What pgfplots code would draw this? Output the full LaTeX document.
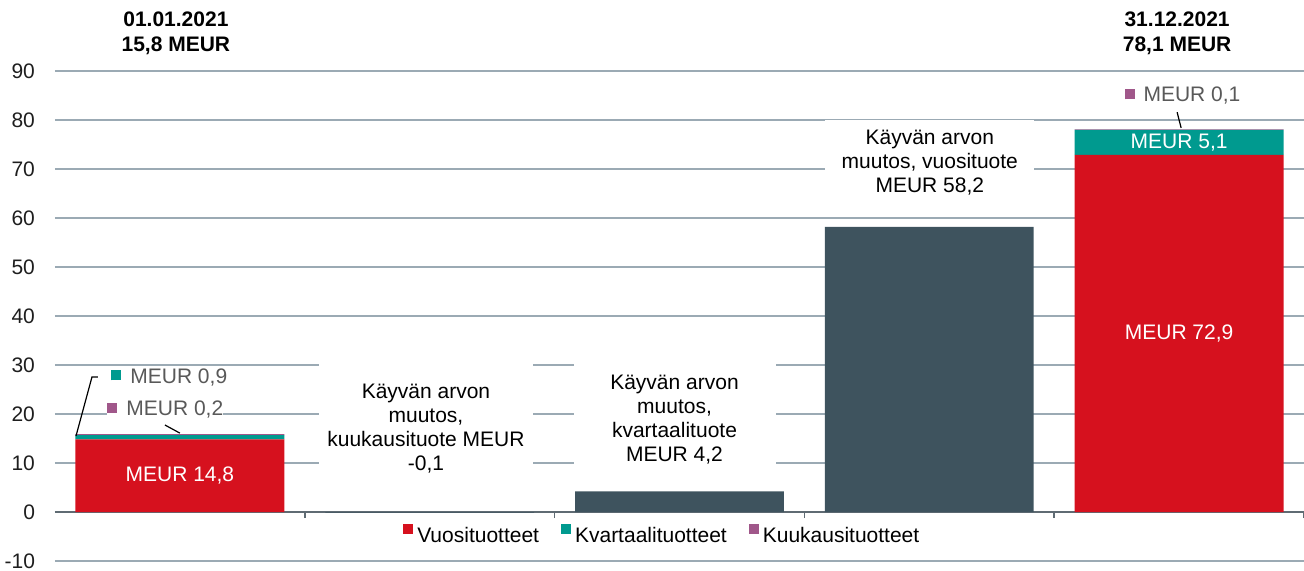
\documentclass[border=0pt]{standalone}
\usepackage{pgfplots}
\pgfplotsset{compat=1.18}
\usepackage{fontspec}
\setmainfont{Liberation Sans}
\definecolor{vred}{RGB}{214,17,30}
\definecolor{kteal}{RGB}{0,154,143}
\definecolor{kpurp}{RGB}{160,87,138}
\definecolor{slate}{RGB}{62,83,94}
\definecolor{gridc}{RGB}{155,170,180}
\definecolor{axc}{RGB}{95,107,115}
\definecolor{lblg}{RGB}{89,89,89}
\definecolor{tickc}{RGB}{30,30,30}
\newcommand{\fs}{\fontsize{10.5}{12}\selectfont}
\begin{document}
\begin{tikzpicture}
\path[use as bounding box] (-27.5pt,-4.5pt) rectangle (624.5pt,280.5pt);
\begin{axis}[
  at={(0,0)}, anchor=south west,
  scale only axis, width=624.5pt, height=245pt,
  xmin=-0.5, xmax=4.5, ymin=-10, ymax=90,
  clip=false,
  ybar stacked, bar width=0.836,
  axis x line*=middle, axis y line*=left,
  x axis line style={-, draw=axc, line width=1pt},
  y axis line style={draw=none},
  xtick={-0.5,0.5,1.5,2.5,3.5,4.5}, xticklabels={},
  x tick style={draw=axc, line width=0.8pt},
  tick align=outside, major tick length=3pt,
  ytick={-10,0,10,20,30,40,50,60,70,80,90},
  yticklabels={-10,0,10,20,30,40,50,60,70,80,90},
  y tick style={draw=none},
  yticklabel style={font=\fs, text=tickc, xshift=-3.5pt},
  ymajorgrids, grid style={draw=gridc, line width=0.9pt},
  legend style={at={(0.487,0.051)}, anchor=center, draw=none, fill=none,
    font=\fs, text=black, inner sep=0pt,
    /tikz/every even column/.append style={column sep=9pt}},
  legend columns=3,
  legend image code/.code={\fill[#1] (0pt,1.25pt) rectangle (5pt,6.25pt);},
]
\addplot[fill=vred, draw=none] coordinates {(0,14.8) (1,0) (2,0) (3,0) (4,72.9)};
\addlegendentry{Vuosituotteet}
\addplot[fill=kteal, draw=none] coordinates {(0,0.9) (1,0) (2,0) (3,0) (4,5.1)};
\addlegendentry{Kvartaalituotteet}
\addplot[fill=kpurp, draw=none] coordinates {(0,0.2) (1,0) (2,0) (3,0) (4,0.1)};
\addlegendentry{Kuukausituotteet}
\addplot[fill=slate, draw=none, forget plot] coordinates {(0,0) (1,-0.1) (2,4.2) (3,58.2) (4,0)};

\coordinate (b1) at (axis cs:0.985,17.1);
\coordinate (b2) at (axis cs:1.98,18.8);
\coordinate (b3) at (axis cs:3.002,71.4);
\coordinate (t0) at (axis cs:-0.016,90);
\coordinate (t4) at (axis cs:3.992,90);
\coordinate (i0) at (axis cs:0,7.4);
\coordinate (i4a) at (axis cs:4,36.45);
\coordinate (i4b) at (axis cs:4,75.45);
\coordinate (s1) at (axis cs:-0.276,27.55);
\coordinate (s2) at (axis cs:-0.292,21.0);
\coordinate (s3) at (axis cs:3.78,84.9);
\coordinate (l1a) at (axis cs:-0.416,15.5);
\coordinate (l1b) at (axis cs:-0.352,27.55);
\coordinate (l1c) at (axis cs:-0.328,27.55);
\coordinate (l2a) at (axis cs:-0.06,17.76);
\coordinate (l2b) at (axis cs:0.0,16.1);
\coordinate (l3a) at (axis cs:3.992,81.6);
\coordinate (l3b) at (axis cs:4.008,78.4);
\end{axis}

% category boxes
\node[fill=white, align=center, font=\fs, text=black, minimum width=107pt, inner ysep=11pt] at (b1) {Käyvän arvon\\muutos,\\kuukausituote MEUR\\-0,1};
\node[fill=white, align=center, font=\fs, text=black, minimum width=101pt, inner ysep=8pt] at (b2) {Käyvän arvon\\muutos,\\kvartaalituote\\MEUR 4,2};
\node[fill=white, align=center, font=\fs, text=black, minimum width=104.5pt, inner ysep=5pt] at (b3) {Käyvän arvon\\muutos, vuosituote\\MEUR 58,2};

% titles
\node[align=center, font=\bfseries\fontsize{10.5}{12.5}\selectfont, yshift=19pt] at (t0) {01.01.2021\\15,8 MEUR};
\node[align=center, font=\bfseries\fontsize{10.5}{12.5}\selectfont, yshift=19pt] at (t4) {31.12.2021\\78,1 MEUR};

% in-bar labels
\node[text=white, font=\fs] at (i0) {MEUR 14,8};
\node[text=white, font=\fs] at (i4a) {MEUR 72,9};
\node[text=white, font=\fs] at (i4b) {MEUR 5,1};

% small labels
\node[anchor=west, fill=white, inner xsep=0pt, inner ysep=1pt, font=\fs] at (s1) {\textcolor{kteal}{\raisebox{1.3pt}{\rule{5pt}{5pt}}}\hspace{4.5pt}\textcolor{lblg}{MEUR 0,9}};
\node[anchor=west, fill=white, inner xsep=0pt, inner ysep=1pt, font=\fs] at (s2) {\textcolor{kpurp}{\raisebox{1.3pt}{\rule{5pt}{5pt}}}\hspace{4.5pt}\textcolor{lblg}{MEUR 0,2}\hspace{4pt}};
\node[anchor=west, fill=white, inner xsep=0pt, inner ysep=1pt, font=\fs] at (s3) {\textcolor{kpurp}{\raisebox{1.3pt}{\rule{5pt}{5pt}}}\hspace{4.5pt}\textcolor{lblg}{MEUR 0,1}};

% leader lines
\draw[black, line width=0.6pt] (l1a) -- (l1b) -- (l1c);
\draw[black, line width=0.6pt] (l2a) -- (l2b);
\draw[black, line width=0.6pt] (l3a) -- (l3b);
\end{tikzpicture}
\end{document}
